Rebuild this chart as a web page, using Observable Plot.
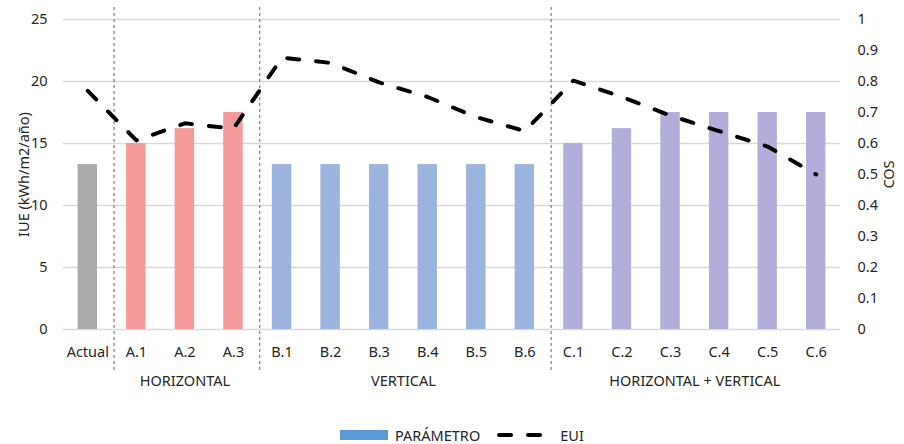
<!DOCTYPE html>
<html>
<head>
<meta charset="utf-8">
<script src="https://cdn.jsdelivr.net/npm/d3@7"></script>
<script src="https://cdn.jsdelivr.net/npm/@observablehq/plot@0.6"></script>
<style>
  html, body { margin: 0; padding: 0; background: #fff; }
  #wrap { position: relative; width: 904px; height: 444px; font-family: "Noto Sans", sans-serif; color: #262626; }
  #legend { position: absolute; left: 340px; top: 425px; height: 20px; display: flex; align-items: center; font-size: 14.5px; color: #262626; }
  .sw { display: inline-block; width: 48px; height: 10px; background: #5b9bd5; margin-right: 7px; }
</style>
</head>
<body>
<div id="wrap"><div id="chart"></div>
  <div id="legend">
    <span class="sw"></span><span>PARÁMETRO</span>
    <svg width="58" height="12" style="margin-left:17px;margin-right:5px"><line x1="2" y1="6" x2="46" y2="6" stroke="#000" stroke-width="4" stroke-linecap="round" stroke-dasharray="12,17"/></svg><span>EUI</span>
  </div>
</div>
<script>
const categories = ["Actual","A.1","A.2","A.3","B.1","B.2","B.3","B.4","B.5","B.6","C.1","C.2","C.3","C.4","C.5","C.6"];
const groupOf = ["base","H","H","H","V","V","V","V","V","V","HV","HV","HV","HV","HV","HV"];
const parametro = [13.3,15.0,16.2,17.5,13.3,13.3,13.3,13.3,13.3,13.3,15.0,16.2,17.5,17.5,17.5,17.5];
const cosValues = [0.77,0.61,0.665,0.648,0.877,0.86,0.797,0.75,0.685,0.64,0.803,0.75,0.69,0.64,0.59,0.50];
const groupNames = {H: "HORIZONTAL", V: "VERTICAL", HV: "HORIZONTAL + VERTICAL"};
const groupColors = {base: "#aaaaaa", H: "#f49a9b", V: "#9bb3dd", HV: "#b1afd9"};
const leftTicks = [0,5,10,15,20,25];
const rightTicks = [0,0.1,0.2,0.3,0.4,0.5,0.6,0.7,0.8,0.9,1];
const leftMax = 25, rightMax = 1;

const data = categories.map((c, i) => ({i, c, g: groupOf[i], v: parametro[i], cos: cosValues[i]}));
const half = 0.2;

const gkeys = ["H","V","HV"];
const groupInfo = gkeys.map(k => {
  const idx = data.filter(d => d.g === k).map(d => d.i);
  return {name: groupNames[k], mid: d3.mean(idx), start: d3.min(idx) - 0.5};
});

const plot = Plot.plot({
  width: 904,
  height: 420,
  marginLeft: 63,
  marginRight: 64,
  marginTop: 19,
  marginBottom: 91,
  style: {fontFamily: "Noto Sans, sans-serif", fontSize: "14.5px", color: "#262626", background: "#fff"},
  x: {domain: [-0.5, categories.length - 0.5]},
  y: {domain: [0, leftMax]},
  marks: [
    Plot.ruleY(leftTicks, {stroke: "#d9d9d9", strokeWidth: 1.3}),
    Plot.rectY(data, {x1: d => d.i - half, x2: d => d.i + half, y: "v", fill: d => groupColors[d.g]}),
    Plot.ruleX(groupInfo, {x: "start", dx: 2, stroke: "#666", strokeWidth: 1, strokeDasharray: "3,3", insetTop: -12, insetBottom: -41}),
    Plot.line(data, {x: "i", y: d => d.cos / rightMax * leftMax, stroke: "#000", strokeWidth: 4, strokeDasharray: "12,17", strokeLinecap: "round", strokeLinejoin: "round"}),
    Plot.axisX(data.map(d => d.i), {tickFormat: i => categories[i], tickSize: 0, tickPadding: 17, label: null, fontSize: 14.5}),
    Plot.text(groupInfo, {x: "mid", text: "name", frameAnchor: "bottom", dy: 56, fontSize: 14.5, fill: "#262626"}),
    Plot.axisY(leftTicks, {anchor: "left", tickSize: 0, tickPadding: 16, label: "IUE (kWh/m2/año)", labelAnchor: "center", labelArrow: "none", labelOffset: 45, fontSize: 14.5}),
    Plot.axisY(rightTicks.map(t => t / rightMax * leftMax), {anchor: "right", tickSize: 0, tickPadding: 17, tickFormat: t => d3.format("~g")(t / leftMax * rightMax), label: "COS", labelAnchor: "center", labelArrow: "none", labelOffset: 53, fontSize: 14.5})
  ]
});
document.getElementById("chart").appendChild(plot);
</script>
</body>
</html>
